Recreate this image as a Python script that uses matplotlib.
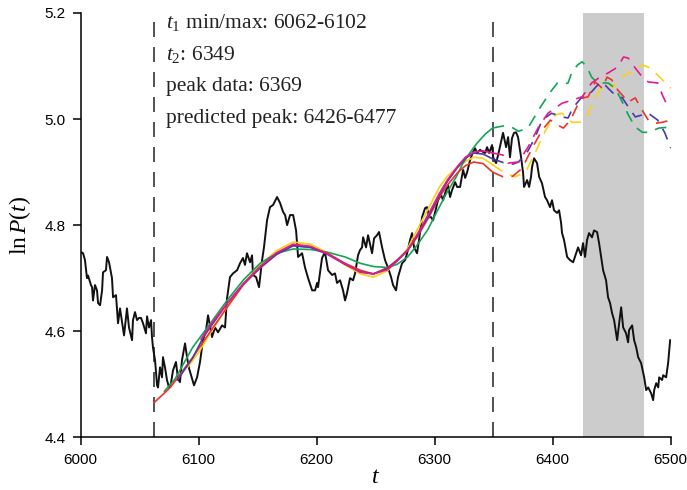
import matplotlib
matplotlib.use("Agg")
import matplotlib.pyplot as plt

# observed log price
t_data = [6000, 6000.3, 6002, 6003.6, 6005.3, 6006.2, 6008.7, 6009.6, 6010.4, 6012.1, 6013.8, 6014.7,
          6016.4, 6018.1, 6018.9, 6021.4, 6022.3, 6024, 6026.5, 6027.4, 6029.9, 6031.6, 6033.3, 6035,
          6036.7, 6039.2, 6040.9, 6043.5, 6044.3, 6046, 6047.7, 6049.4, 6051.1, 6052.8, 6055.3, 6056.2,
          6057.9, 6059.6, 6060.4, 6061.3, 6063, 6064.7, 6065.5, 6067.2, 6068.9, 6069.7, 6071.4, 6073.1,
          6074.8, 6076.5, 6078.2, 6080.7, 6082.4, 6084.1, 6085.8, 6088.4, 6090.1, 6091.8, 6094.3, 6096,
          6098.6, 6101.1, 6103.6, 6106.2, 6107.9, 6111.3, 6113.8, 6116.4, 6119.8, 6122.3, 6124, 6126.5,
          6129.1, 6132.5, 6135, 6137.5, 6139.2, 6140.9, 6143.5, 6145.2, 6146, 6148.6, 6151.1, 6153.7,
          6155.3, 6157.9, 6160.4, 6163, 6166.4, 6168.9, 6171.5, 6173.2, 6174.9, 6177.4, 6180, 6182.5,
          6184.2, 6187.6, 6190.1, 6192.7, 6196.1, 6198.6, 6200.3, 6201.1, 6204.5, 6207, 6209.6, 6213,
          6215.5, 6217.2, 6219.8, 6222.3, 6224, 6225.7, 6228.2, 6230.8, 6232.5, 6235, 6236.7, 6238.4,
          6239.3, 6241.8, 6243.5, 6246.9, 6248.6, 6251.1, 6252.8, 6255.4, 6257.9, 6260.4, 6263, 6264.7,
          6267.2, 6268.9, 6272.3, 6274.9, 6276.6, 6279.1, 6280.8, 6282.5, 6285, 6286.7, 6289.3, 6291.8,
          6293.5, 6295.2, 6296.9, 6298.6, 6301.1, 6302.8, 6305.4, 6307.1, 6309.6, 6311.3, 6313, 6314.7,
          6317.3, 6319, 6321.5, 6323.2, 6324.1, 6325.8, 6327.5, 6330, 6332.5, 6334.2, 6335.9, 6338.4,
          6341, 6342.7, 6344.4, 6346.1, 6348.6, 6349.5, 6352, 6353.7, 6357.1, 6357.9, 6360.5, 6362.2,
          6363.8, 6365.5, 6367.2, 6368.9, 6370.6, 6373.2, 6374.9, 6375.7, 6378.3, 6380, 6381.6, 6382.5,
          6384.2, 6386.7, 6388.5, 6390.9, 6393.5, 6395.2, 6397.7, 6399.4, 6401.1, 6403.7, 6405.4, 6407.1,
          6407.9, 6409.6, 6412.2, 6414.7, 6417.3, 6419.8, 6421.5, 6424, 6425.7, 6427.4, 6429.1, 6430.8,
          6433.3, 6435, 6437.6, 6439.3, 6441, 6442.7, 6445.2, 6446.9, 6448.6, 6450.3, 6452, 6454.6,
          6456.3, 6458, 6459.7, 6462.2, 6463.9, 6464.7, 6467.3, 6469, 6470.7, 6472.4, 6474.9, 6477.5,
          6479.2, 6480.9, 6483.4, 6485.1, 6486, 6487.7, 6489.4, 6490.2, 6492.7, 6493.6, 6496.1, 6497.8,
          6499.5]
p_data = [4.749, 4.749, 4.747, 4.734, 4.70, 4.705, 4.687, 4.683, 4.658, 4.687, 4.677, 4.653,
          4.649, 4.677, 4.711, 4.715, 4.74, 4.73, 4.70, 4.664, 4.668, 4.615, 4.643, 4.617,
          4.592, 4.643, 4.607, 4.583, 4.621, 4.636, 4.621, 4.625, 4.625, 4.615, 4.596, 4.628,
          4.607, 4.621, 4.589, 4.568, 4.545, 4.498, 4.494, 4.532, 4.513, 4.551, 4.532, 4.508,
          4.494, 4.502, 4.526, 4.542, 4.511, 4.504, 4.545, 4.577, 4.551, 4.530, 4.511, 4.498,
          4.513, 4.542, 4.583, 4.602, 4.630, 4.589, 4.607, 4.598, 4.611, 4.607, 4.662, 4.702,
          4.709, 4.715, 4.728, 4.738, 4.725, 4.747, 4.73, 4.743, 4.706, 4.702, 4.683, 4.734,
          4.758, 4.809, 4.834, 4.838, 4.853, 4.842, 4.825, 4.819, 4.80, 4.819, 4.819, 4.79,
          4.74, 4.747, 4.72, 4.70, 4.677, 4.677, 4.691, 4.683, 4.738, 4.749, 4.715, 4.706,
          4.709, 4.691, 4.696, 4.677, 4.658, 4.672, 4.70, 4.696, 4.709, 4.743, 4.753, 4.758,
          4.777, 4.758, 4.781, 4.747, 4.775, 4.781, 4.787, 4.758, 4.734, 4.72, 4.702, 4.687,
          4.677, 4.702, 4.728, 4.734, 4.747, 4.772, 4.785, 4.758, 4.747, 4.772, 4.815, 4.832,
          4.834, 4.815, 4.815, 4.809, 4.832, 4.847, 4.857, 4.847, 4.866, 4.875, 4.853, 4.866,
          4.881, 4.872, 4.872, 4.894, 4.904, 4.889, 4.90, 4.923, 4.938, 4.945, 4.936, 4.942,
          4.938, 4.936, 4.947, 4.936, 4.951, 4.928, 4.917, 4.932, 4.966, 4.974, 4.947, 4.966,
          4.928, 4.964, 4.974, 4.975, 4.966, 4.928, 4.898, 4.872, 4.885, 4.872, 4.891, 4.91,
          4.926, 4.917, 4.891, 4.879, 4.853, 4.847, 4.834, 4.847, 4.828, 4.823, 4.828, 4.804,
          4.785, 4.772, 4.74, 4.734, 4.73, 4.747, 4.758, 4.743, 4.766, 4.74, 4.772, 4.785,
          4.777, 4.79, 4.787, 4.766, 4.74, 4.715, 4.696, 4.664, 4.653, 4.634, 4.621, 4.583,
          4.615, 4.645, 4.607, 4.596, 4.579, 4.602, 4.611, 4.583, 4.570, 4.551, 4.540, 4.513,
          4.489, 4.494, 4.483, 4.470, 4.489, 4.502, 4.494, 4.513, 4.508, 4.517, 4.513, 4.540,
          4.583]

t2 = 6349
t1_min, t1_max = 6062, 6102
pred_lo, pred_hi = 6426, 6477
peak_data = 6369

# fitted curves (solid up to t2, dashed afterwards)
red_t = [6062, 6076, 6095, 6110, 6124, 6138, 6152, 6166, 6180, 6195, 6209, 6224, 6237, 6248, 6260,
         6268, 6277, 6285, 6295, 6304, 6311, 6319, 6326, 6333, 6341, 6349,
         6358, 6366, 6374, 6383, 6391, 6398, 6404, 6409, 6415, 6421, 6426, 6430, 6436, 6442, 6446,
         6450, 6455, 6459, 6464, 6470, 6474, 6481, 6487, 6493, 6500]
red_y = [4.465, 4.494, 4.551, 4.60, 4.645, 4.688, 4.719, 4.745, 4.762, 4.758, 4.747, 4.728, 4.715,
         4.708, 4.72, 4.734, 4.752, 4.777, 4.815, 4.853, 4.876, 4.898, 4.912, 4.919, 4.916, 4.90,
         4.891, 4.892, 4.907, 4.947, 4.979, 4.998, 4.989, 4.983, 4.998, 5.026, 5.04, 5.042, 5.07,
         5.058, 5.079, 5.074, 5.055, 5.045, 5.032, 5.04, 5.023, 4.998, 4.992, 4.994, 4.998]

green_t = [6071, 6080, 6095, 6110, 6124, 6138, 6152, 6166, 6180, 6195, 6209, 6224, 6237, 6248, 6260,
           6268, 6277, 6285, 6294, 6302, 6310, 6318, 6324, 6330, 6336, 6343, 6349,
           6358, 6365, 6371, 6379, 6388, 6398, 6404, 6409, 6413, 6416, 6421, 6425, 6429, 6433, 6438,
           6442, 6447, 6453, 6459, 6464, 6470, 6476, 6481, 6490, 6500]
green_y = [4.487, 4.51, 4.57, 4.615, 4.658, 4.697, 4.728, 4.747, 4.755, 4.754, 4.749, 4.74, 4.728,
           4.722, 4.72, 4.726, 4.74, 4.762, 4.791, 4.826, 4.86, 4.89, 4.917, 4.937, 4.955, 4.972, 4.983,
           4.987, 4.985, 4.977, 4.983, 5.017, 5.051, 5.068, 5.066, 5.068, 5.087, 5.102, 5.108, 5.098,
           5.079, 5.068, 5.068, 5.068, 5.058, 5.032, 5.008, 4.985, 4.975, 4.975, 4.983, 4.985]

blue_t = [6082, 6095, 6104, 6110, 6124, 6138, 6152, 6166, 6180, 6195, 6209, 6224, 6237, 6248, 6260,
          6268, 6277, 6285, 6295, 6304, 6311, 6319, 6326, 6333, 6341, 6349,
          6358, 6366, 6371, 6379, 6385, 6391, 6399, 6408, 6413, 6417, 6425, 6432, 6438, 6442, 6447,
          6453, 6459, 6464, 6470, 6476, 6481, 6489, 6495, 6500]
blue_y = [4.508, 4.55, 4.589, 4.608, 4.652, 4.69, 4.72, 4.745, 4.761, 4.758, 4.745, 4.726, 4.712,
          4.708, 4.718, 4.733, 4.753, 4.78, 4.818, 4.857, 4.883, 4.908, 4.926, 4.936, 4.934, 4.925,
          4.918, 4.915, 4.919, 4.94, 4.965, 4.998, 5.011, 5.004, 5.002, 5.021, 5.042, 5.049, 5.064,
          5.070, 5.058, 5.045, 5.040, 5.023, 5.004, 5.008, 5.011, 4.998, 4.974, 4.945]

magenta_t = [6102, 6110, 6124, 6138, 6152, 6166, 6180, 6195, 6209, 6224, 6237, 6248, 6260, 6268,
             6277, 6285, 6295, 6304, 6311, 6319, 6326, 6333, 6341, 6349,
             6358, 6362, 6371, 6379, 6388, 6396, 6408, 6417, 6425, 6433, 6440, 6447, 6455, 6460,
             6464, 6470, 6476, 6481, 6489, 6493, 6497, 6500]
magenta_y = [4.585, 4.612, 4.652, 4.69, 4.722, 4.748, 4.764, 4.76, 4.746, 4.727, 4.711, 4.708, 4.716,
             4.732, 4.752, 4.782, 4.822, 4.86, 4.886, 4.91, 4.928, 4.938, 4.94, 4.936,
             4.932, 4.917, 4.919, 4.947, 4.985, 5.011, 5.03, 5.036, 5.042, 5.068, 5.079, 5.087, 5.098,
             5.117, 5.115, 5.096, 5.079, 5.07, 5.068, 5.045, 5.026, 5.02]

yellow_t = [6091, 6100, 6110, 6124, 6138, 6152, 6166, 6180, 6195, 6209, 6224, 6237, 6248, 6260, 6268,
            6277, 6285, 6295, 6304, 6311, 6319, 6326, 6333, 6341, 6347, 6349,
            6358, 6368, 6377, 6385, 6394, 6402, 6408, 6416, 6423, 6429, 6434, 6440, 6446, 6451, 6457,
            6464, 6470, 6476, 6481, 6487, 6493, 6500]
yellow_y = [4.533, 4.56, 4.597, 4.645, 4.69, 4.725, 4.752, 4.768, 4.764, 4.748, 4.725, 4.708, 4.702,
            4.714, 4.732, 4.756, 4.791, 4.833, 4.872, 4.893, 4.908, 4.92, 4.928, 4.926, 4.917, 4.914,
            4.90, 4.891, 4.90, 4.936, 4.979, 5.008, 5.011, 4.994, 4.994, 5.004, 5.032, 5.055, 5.068,
            5.060, 5.077, 5.087, 5.092, 5.102, 5.098, 5.087, 5.074, 5.058]

fits = [
    (yellow_t, yellow_y, "#fcd116"),
    (green_t, green_y, "#12a55a"),
    (red_t, red_y, "#e8352a"),
    (blue_t, blue_y, "#4a3aa8"),
    (magenta_t, magenta_y, "#e6198c"),
]

plt.rcParams["mathtext.fontset"] = "custom"
plt.rcParams["mathtext.rm"] = "Liberation Serif"
plt.rcParams["mathtext.it"] = "Liberation Serif:italic"

fig = plt.figure(figsize=(6.87, 4.9), dpi=100)
ax = fig.add_axes([0.1175, 0.1076, 0.8588, 0.8659])

ax.axvspan(pred_lo, pred_hi, color="#cccccc", lw=0, zorder=0)
for x in [t1_min, t2]:
    ax.axvline(x, color="#333333", lw=1.2, dashes=(9, 6), zorder=1)

ax.plot(t_data, p_data, color="#111111", lw=1.4, zorder=2)

for tt, yy, c in fits:
    solid_t = [a for a in tt if a <= t2]
    solid_y = [b for a, b in zip(tt, yy) if a <= t2]
    dash_t = [a for a in tt if a >= t2]
    dash_y = [b for a, b in zip(tt, yy) if a >= t2]
    ax.plot(solid_t, solid_y, color=c, lw=1.2, zorder=3)
    ax.plot(dash_t, dash_y, color=c, lw=1.2, dashes=(7, 5), zorder=3)

ax.set_xlim(6000, 6500)
ax.set_ylim(4.4, 5.2)
ax.set_xticks([6000, 6100, 6200, 6300, 6400, 6500])
ax.set_yticks([4.4, 4.6, 4.8, 5.0, 5.2])
ax.set_yticklabels(["4.4", "4.6", "4.8", "5.0", "5.2"])
for s in ["top", "right"]:
    ax.spines[s].set_visible(False)
for s in ["left", "bottom"]:
    ax.spines[s].set_linewidth(1.1)
ax.tick_params(direction="out", length=6, width=1.1, labelsize=11, pad=5)
for lab in ax.get_xticklabels() + ax.get_yticklabels():
    lab.set_fontfamily("Liberation Sans")

ax.set_xlabel(r"$t$", fontsize=17, labelpad=-2)
ax.set_ylabel(r"$\ln P(t)$", fontsize=17, labelpad=8)

notes = [
    (0.977, r"$t_1$ min/max: %d-%d" % (t1_min, t1_max)),
    (0.902, r"$t_2$: %d" % t2),
    (0.826, "peak data: %d" % peak_data),
    (0.751, "predicted peak: %d-%d" % (pred_lo, pred_hi)),
]
for yf, txt in notes:
    ax.text(0.145, yf, txt, transform=ax.transAxes, fontsize=15.5, va="center", ha="left",
            family="Liberation Serif", color="#222222")

fig.savefig("out.png", dpi=100)
